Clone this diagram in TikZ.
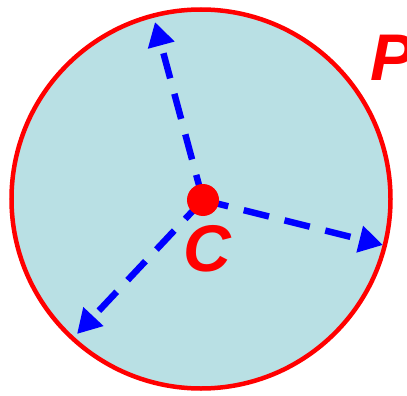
\documentclass[tikz,border=0pt]{standalone}
\usepackage{fontspec}
\setmainfont{Liberation Sans}
\usetikzlibrary{arrows.meta}
\definecolor{disc}{RGB}{185,224,228}
\begin{document}
\begin{tikzpicture}[x=1pt,y=-1pt,
  radius/.style={draw=blue, line width=6.5pt, dash pattern=on 26pt off 16pt,
    -{Triangle[length=24pt,width=26pt]}},
  lbl/.style={text=red, font=\fontsize{66}{66}\selectfont\bfseries\itshape, inner sep=0pt}]
\useasboundingbox (0,0) rectangle (407,396);
\node[circle, draw=red, line width=4.5pt, fill=disc, minimum size=379pt, inner sep=0pt] (disk) at (201,199) {};
\coordinate (c) at (203,200);
\coordinate (t1) at (155,22);
\coordinate (t2) at (383,245);
\coordinate (t3) at (77,334);
\draw[radius] (c) -- (t1);
\draw[radius] (c) -- (t2);
\draw[radius] (c) -- (t3);
\node[circle, fill=red, minimum size=32pt, inner sep=0pt] (dot) at (c) {};
\node[lbl] (C) at (207,249) {C};
\node[lbl] (P) at (393,58) {P};
\end{tikzpicture}
\end{document}
